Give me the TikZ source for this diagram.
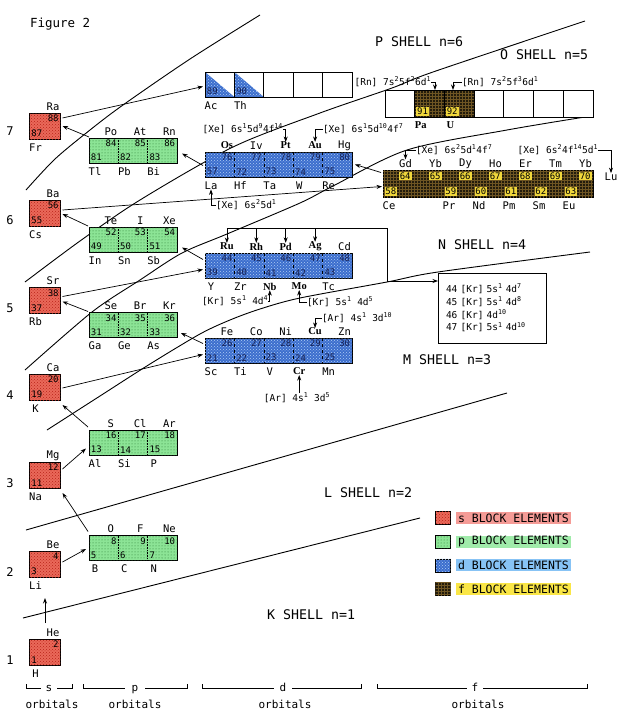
\documentclass[tikz,border=0pt]{standalone}
\usepackage{fontspec}
\setmainfont{DejaVu Sans Mono}
\newfontfamily\serifb{Liberation Serif}
\usetikzlibrary{patterns,arrows.meta,calc}
\newcommand\su[1]{\textsuperscript{#1}}
\newcommand\bo{\serifb\bfseries}
\definecolor{sred}{RGB}{234,105,90}
\definecolor{sredd}{RGB}{185,35,25}
\definecolor{pgreen}{RGB}{140,228,150}
\definecolor{pgreend}{RGB}{40,120,50}
\definecolor{dblue}{RGB}{60,110,205}
\definecolor{dblued}{RGB}{175,205,245}
\definecolor{navyt}{RGB}{20,30,80}
\definecolor{fbrown}{RGB}{35,28,12}
\definecolor{fbrownl}{RGB}{110,85,35}
\definecolor{ftag}{RGB}{240,215,60}
\definecolor{hls}{RGB}{245,155,150}
\definecolor{hlp}{RGB}{160,235,170}
\definecolor{hld}{RGB}{135,195,245}
\definecolor{hlf}{RGB}{250,230,70}
% #1 number style, #2 x0, #3 ytop, #4 cell width, #5 height, #6 list
\newcommand\cells[6][num]{%
  \foreach \i/\vul/\vun/\vll/\vln in {#6}{%
    \ifnum\vun=0\relax\else
      \node[#1,anchor=north east] (n\vun) at ({#2+#4*(\i+1)-1.5},{#3+1.5}) {\vun};
      \node[lab] (e\vun) at ({#2+#4*(\i+1)-7.5},{#3-6.5}) {\vul};
    \fi
    \ifnum\vln=0\relax\else
      \node[#1,anchor=south west] (n\vln) at ({#2+#4*\i+1.5},{#3+#5-1.5}) {\vln};
      \node[lab] (e\vln) at ({#2+#4*\i+6},{#3+#5+8.5}) {\vll};
    \fi
  }}
\newcommand\divs[4][]{%
  \foreach \k in {1,...,#4}{\draw[#1] ($(#2.north west)+({#3*\k},0)$) -- ($(#2.south west)+({#3*\k},0)$);}}
\begin{document}
\begin{tikzpicture}[x=1pt,y=-1pt,
  every node/.style={inner sep=0pt,outer sep=0pt},
  box/.style={draw,line width=0.8pt},
  sbox/.style={box,minimum width=31pt,minimum height=26pt,fill=sred,postaction={pattern=crosshatch dots,pattern color=sredd}},
  pbox/.style={box,minimum width=88pt,minimum height=25pt,fill=pgreen,postaction={pattern=dots,pattern color=pgreend}},
  dbox/.style={box,minimum width=147pt,minimum height=25pt,fill=dblue,postaction={pattern=crosshatch dots,pattern color=dblued}},
  fbox/.style={box,fill=fbrown,postaction={pattern=grid,pattern color=fbrownl}},
  wbox/.style={box,fill=white},
  lab/.style={font=\fontsize{10.5}{10.5}\selectfont},
  num/.style={font=\fontsize{9}{9}\selectfont,inner sep=0.4pt},
  dnum/.style={num,text=navyt},
  fnum/.style={num,fill=ftag,inner sep=0.9pt},
  cfg/.style={font=\fontsize{9.5}{9.5}\selectfont},
  shell/.style={font=\fontsize{13.3}{13.3}\selectfont,anchor=west},
  rown/.style={font=\fontsize{12}{12}\selectfont},
  orb/.style={font=\fontsize{11}{11}\selectfont,anchor=base},
  leg/.style={font=\fontsize{11.5}{11.5}\selectfont,anchor=west,inner xsep=2pt,minimum height=12pt},
  arr/.style={-{Stealth[length=5.5pt,width=4pt]},line width=0.7pt},
  shl/.style={line width=0.9pt},
  brk/.style={line width=0.8pt}]
\fill[white] (0,0) rectangle (634,720);
\useasboundingbox (0,0) rectangle (634,720);

% shell boundaries
\draw[shl] (23,618) -- (420,518);
\draw[shl] (26,530) -- (507,393);
\draw[shl] plot[smooth] coordinates {(47,430) (100,396) (150,364) (200,334) (230,320) (260,309) (300,298) (387,282) (438,272) (590,252)};
\draw[shl] plot[smooth] coordinates {(25,370) (92,312) (140,280) (182,253) (227,234) (300,203) (333,186) (407,150) (507,130) (585,117)};
\draw[shl] plot[smooth] coordinates {(25,282) (80,241) (140,200) (233,147) (320,113) (392,88) (433,72) (585,21)};
\draw[shl] plot[smooth] coordinates {(26,190) (55,159) (90,130) (123,105) (190,59) (260,15)};

% title, shell labels, row numbers
\node[font=\fontsize{12.5}{12.5}\selectfont,anchor=west] (title) at (30,24) {Figure 2};
\node[shell] (shP) at (375,42) {P SHELL n=6};
\node[shell] (shO) at (500,55) {O SHELL n=5};
\node[shell] (shN) at (438,245) {N SHELL n=4};
\node[shell] (shM) at (403,360) {M SHELL n=3};
\node[shell] (shL) at (324,493) {L SHELL n=2};
\node[shell] (shK) at (267,615) {K SHELL n=1};
\foreach \r/\yy in {7/131,6/220,5/308,4/395,3/483,2/572,1/660}
  \node[rown] (row\r) at (10,\yy) {\r};

% s block
\node[sbox] (s7) at (45,126) {};
\node[sbox] (s6) at (45,213) {};
\node[sbox] (s5) at (45,300.5) {};
\node[sbox] (s4) at (45,387) {};
\node[sbox] (s3) at (45,475) {};
\node[sbox] (s2) at (45,564) {};
\node[sbox] (s1) at (45,652) {};
\cells{29.5}{113}{31}{26}{0/Ra/88/Fr/87}
\cells{29.5}{200}{31}{26}{0/Ba/56/Cs/55}
\cells{29.5}{287.5}{31}{26}{0/Sr/38/Rb/37}
\cells{29.5}{374}{31}{26}{0/Ca/20/K/19}
\cells{29.5}{462}{31}{26}{0/Mg/12/Na/11}
\cells{29.5}{551}{31}{26}{0/Be/4/Li/3}
\cells{29.5}{639}{31}{26}{0/He/2/H/1}

% p block
\node[pbox] (p6) at (133,150.5) {};
\node[pbox] (p5) at (133,239.5) {};
\node[pbox] (p4) at (133,325) {};
\node[pbox] (p3) at (133,442.5) {};
\node[pbox] (p2) at (133,548) {};
\foreach \b in {p6,p5,p4,p3,p2} {\divs[densely dotted,line width=0.6pt]{\b}{29.33}{2}}
\cells{89}{138}{29.33}{25}{0/Po/84/Tl/81,1/At/85/Pb/82,2/Rn/86/Bi/83}
\cells{89}{227}{29.33}{25}{0/Te/52/In/49,1/I/53/Sn/50,2/Xe/54/Sb/51}
\cells{89}{312.5}{29.33}{25}{0/Se/34/Ga/31,1/Br/35/Ge/32,2/Kr/36/As/33}
\cells{89}{430}{29.33}{25}{0/S/16/Al/13,1/Cl/17/Si/14,2/Ar/18/P/15}
\cells{89}{535.5}{29.33}{25}{0/O/8/B/5,1/F/9/C/6,2/Ne/10/N/7}

% d block
\node[dbox] (d6) at (278.5,164.5) {};
\node[dbox] (d5) at (278.5,265.5) {};
\node[dbox] (d4) at (278.5,350.5) {};
\foreach \b in {d6,d5,d4} {\divs[dashed,line width=0.5pt]{\b}{29.4}{4}}
\node[wbox,minimum width=147pt,minimum height=25pt] (d7) at (278.5,84.5) {};
\foreach \c in {0,1}
  \fill[dblue,postaction={pattern=crosshatch dots,pattern color=dblued}]
    ($(d7.north west)+({29.4*\c},0)$) -- ($(d7.south west)+({29.4*\c},0)$) -- ($(d7.south west)+({29.4*(\c+1)},0)$) -- cycle;
\divs[line width=0.8pt]{d7}{29.4}{4}
\draw[box] (d7.north west) rectangle (d7.south east);
\cells[dnum]{205}{152}{29.4}{25}{0/{\bo Os}/76/La/57,1/Iv/77/Hf/72,2/{\bo Pt}/78/Ta/73,3/{\bo Au}/79/W/74,4/Hg/80/Re/75}
\cells[dnum]{205}{253}{29.4}{25}{0/{\bo Ru}/44/Y/39,1/{\bo Rh}/45/Zr/40,2/{\bo Pd}/46/{\bo Nb}/41,3/{\bo Ag}/47/{\bo Mo}/42,4/Cd/48/Tc/43}
\cells[dnum]{205}{338}{29.4}{25}{0/Fe/26/Sc/21,1/Co/27/Ti/22,2/Ni/28/V/23,3/{\bo Cu}/29/{\bo Cr}/24,4/Zn/30/Mn/25}
\cells[dnum]{205}{72}{29.4}{25}{0/-/0/Ac/89,1/-/0/Th/90}

% f block
\node[fbox,minimum width=210pt,minimum height=27pt] (fL) at (488,183.5) {};
\cells[fnum]{383}{170}{30}{27}{0/Gd/64/Ce/58,1/Yb/65/-/0,2/Dy/66/Pr/59,3/Ho/67/Nd/60,4/Er/68/Pm/61,5/Tm/69/Sm/62,6/Yb/70/Eu/63}
\node[lab] (lu) at (611,177) {Lu};
\node[wbox,minimum width=208pt,minimum height=27pt] (fA) at (489,103.5) {};
\fill[fbrown,postaction={pattern=grid,pattern color=fbrownl}] ($(fA.north west)+(29.71,0)$) rectangle ($(fA.south west)+(89.13,0)$);
\divs[line width=0.8pt]{fA}{29.71}{6}
\draw[box] (fA.north west) rectangle (fA.south east);
\cells[fnum]{385}{90}{29.71}{27}{1/-/0/{\bo Pa}/91,2/-/0/{\bo U}/92}

% 4d configuration box
\node[box,fill=white,minimum width=108pt,minimum height=70pt,text width=92pt,align=left,font=\fontsize{9.5}{12.8}\selectfont] (nbox) at (492,308)
  {44 [Kr] 5s\su{1} 4d\su{7}\\45 [Kr] 5s\su{1} 4d\su{8}\\46 [Kr] 4d\su{10}\\47 [Kr] 5s\su{1} 4d\su{10}};

% configurations
\node[cfg,anchor=east] (cPt) at (283,129) {[Xe] 6s\su{1}5d\su{9}4f\su{14}};
\draw[arr] (cPt.east) -| (e78.north);
\node[cfg,anchor=west] (cAu) at (323,129) {[Xe] 6s\su{1}5d\su{10}4f\su{7}};
\draw[arr] (cAu.west) -| (e79.north);
\node[cfg,anchor=west] (cLa) at (216,205) {[Xe] 6s\su{2}5d\su{1}};
\draw[arr] (cLa.west) -| (e57.south);
\node[cfg,anchor=west] (cGd) at (416,150) {[Xe] 6s\su{2}5d\su{1}4f\su{7}};
\draw[arr] (cGd.west) -| (e64.north);
\node[cfg,anchor=east] (cLu) at (598,150) {[Xe] 6s\su{2}4f\su{14}5d\su{1}};
\draw[arr] (cLu.east) -| (lu.north);
\node[cfg,anchor=east] (cPa) at (431,82) {[Rn] 7s\su{2}5f\su{2}6d\su{1}};
\draw[arr] (cPa.east) -| ($(fA.north west)+(50,0)$);
\node[cfg,anchor=west] (cU) at (462,82) {[Rn] 7s\su{2}5f\su{3}6d\su{1}};
\draw[arr] (cU.west) -| ($(fA.north west)+(68,0)$);
\node[cfg,anchor=west] (cNb) at (202,301) {[Kr] 5s\su{1} 4d\su{4}};
\draw[arr] (cNb.east) -| (e41.south);
\node[cfg,anchor=west] (cMo) at (307,302) {[Kr] 5s\su{1} 4d\su{5}};
\draw[arr] (cMo.west) -| (e42.south);
\node[cfg,anchor=west] (cCu) at (322,318) {[Ar] 4s\su{1} 3d\su{10}};
\draw[arr] (cCu.west) -| (e29.north);
\node[cfg] (cCr) at (297,398) {[Ar] 4s\su{1} 3d\su{5}};
\draw[arr] (cCr.north -| e24) -- (e24.south);
\coordinate (brk) at (387,228);
\draw[line width=0.7pt] (e44 |- brk) -- (brk);
\draw[arr] (brk) |- ($(nbox.north west)+(0,8)$);
\foreach \e in {44,45,46,47} \draw[arr] (e\e |- brk) -- (e\e.north);

% filling order
\draw[arr] ($(s1.north)+(0,-16)$) -- ($(s2.south)+(0,21)$);
\draw[arr] ($(s2.east)+(2,-2)$) -- ($(p2.west)+(-3,1)$);
\draw[arr] ($(p2.north west)+(-1,-4)$) -- ($(s3.south east)+(2,5)$);
\draw[arr] ($(s3.east)+(2,-6)$) -- ($(p3.west)+(-3,6)$);
\draw[arr] ($(p3.north west)+(-1,-3)$) -- ($(s4.south east)+(2,5)$);
\draw[arr] ($(s4.east)+(2,1)$) -- ($(d4.west)+(-2,4)$);
\draw[arr] ($(d4.west)+(-2,-7)$) -- ($(p4.east)+(4,8)$);
\draw[arr] ($(p4.north west)+(-1,-1)$) -- ($(s5.east)+(2,1)$);
\draw[arr] ($(s5.east)+(2,-4)$) -- ($(d5.west)+(-2,4)$);
\draw[arr] ($(d5.west)+(-2,-6)$) -- ($(p5.east)+(5,8)$);
\draw[arr] ($(p5.north west)+(-1,-1)$) -- ($(s6.east)+(2,1)$);
\draw[arr] ($(s6.east)+(2,-3)$) -- ($(fL.west)+(-1,3)$);
\draw[arr] ($(fL.west)+(-2,-11)$) -- ($(d6.east)+(3,0)$);
\draw[arr] ($(d6.west)+(-2,1)$) -- ($(p6.east)+(5,3)$);
\draw[arr] ($(p6.north west)+(0,-1)$) -- ($(s7.east)+(2,0)$);
\draw[arr] ($(s7.east)+(2,-8)$) -- ($(d7.west)+(-2,2)$);

% legend
\node[sbox,minimum width=15pt,minimum height=13pt] (lgs) at (443,518) {};
\node[leg,fill=hls] (lts) at (456,518) {s BLOCK ELEMENTS};
\node[pbox,minimum width=15pt,minimum height=13pt] (lgp) at (443,541.7) {};
\node[leg,fill=hlp] (ltp) at (456,541.7) {p BLOCK ELEMENTS};
\node[dbox,minimum width=15pt,minimum height=13pt] (lgd) at (443,565.4) {};
\node[leg,fill=hld] (ltd) at (456,565.4) {d BLOCK ELEMENTS};
\node[fbox,minimum width=15pt,minimum height=13pt] (lgf) at (443,589) {};
\node[leg,fill=hlf] (ltf) at (456,589) {f BLOCK ELEMENTS};

% orbital brackets
\draw[brk] (26,684) -- (26,688) -- (41,688) (57,688) -- (72,688) -- (72,684);
\node[orb] (bs) at (49,691.5) {s};
\draw[brk] (83,684) -- (83,688) -- (125,688) (145,688) -- (187,688) -- (187,684);
\node[orb] (bp) at (135,691.5) {p};
\draw[brk] (202,684) -- (202,688) -- (274,688) (292,688) -- (361,688) -- (361,684);
\node[orb] (bd) at (283,691.5) {d};
\draw[brk] (377,684) -- (377,688) -- (467,688) (483,688) -- (587,688) -- (587,684);
\node[orb] (bf) at (475,691.5) {f};
\node[orb] (os) at (52,708) {orbitals};
\node[orb] (op) at (135,708) {orbitals};
\node[orb] (od) at (285,708) {orbitals};
\node[orb] (of) at (478,708) {orbitals};
\end{tikzpicture}
\end{document}
